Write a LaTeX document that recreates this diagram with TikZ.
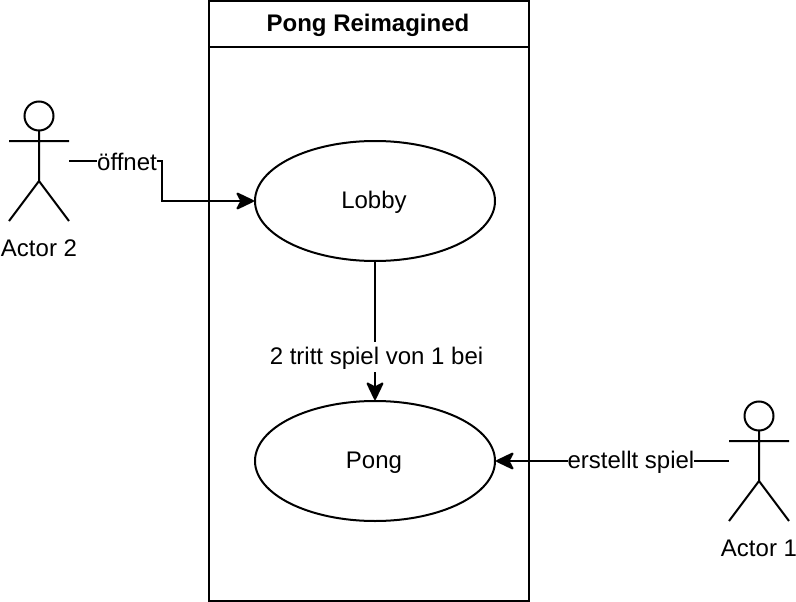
\documentclass[tikz,border=0pt]{standalone}
\usepackage{fontspec}
\setmainfont{Liberation Sans}
\usetikzlibrary{arrows.meta,shapes.geometric}
\tikzset{
  ln/.style={line width=2pt,black},
  uc/.style={draw,ln,ellipse,minimum width=240pt,minimum height=120pt,inner sep=0pt},
  lab/.style={fill=white,inner xsep=0pt,inner ysep=0pt,text height=22pt,text depth=8pt,anchor=base,font=\fontsize{24pt}{28pt}\selectfont},
  txt/.style={inner sep=0pt,anchor=base,font=\fontsize{24pt}{28pt}\selectfont},
  arr/.style={ln,-{Stealth[length=20pt,width=19pt,inset=5pt,round=false]}}
}
\begin{document}
\begin{tikzpicture}[x=1pt,y=-1pt]
\useasboundingbox (0,0) rectangle (796,602);
\node[draw,ln,minimum width=320pt,minimum height=600pt,inner sep=0pt] (sys) at (369,301) {};
\coordinate (hl) at (209,47);
\coordinate (hr) at (529,47);
\draw[ln] (hl) -- (hr);
\node[txt,font=\fontsize{24pt}{28pt}\selectfont\bfseries] (title) at (368,32) {Pong Reimagined};
\node[uc] (lobby) at (375,201) {};
\node[txt] (lobbyt) at (374,208) {Lobby};
\node[uc] (pong) at (375,461) {};
\node[txt] (pongt) at (374,468) {Pong};
% Actor 2
\node[draw,ln,circle,minimum size=29pt,inner sep=0pt] (h2) at (39,116) {};
\coordinate (n2) at (39,131);
\coordinate (hip2) at (39,181);
\coordinate (al2) at (9,141);
\coordinate (ar2) at (69,141);
\coordinate (fl2) at (9,221);
\coordinate (fr2) at (69,221);
\coordinate (mid2) at (69,161);
\draw[ln] (n2) -- (hip2) (al2) -- (ar2) (fl2) -- (hip2) -- (fr2);
\node[txt] (a2) at (39,256) {Actor 2};
% Actor 1
\node[draw,ln,circle,minimum size=29pt,inner sep=0pt] (h1) at (759,416) {};
\coordinate (n1) at (759,431);
\coordinate (hip1) at (759,481);
\coordinate (al1) at (729,441);
\coordinate (ar1) at (789,441);
\coordinate (fl1) at (729,521);
\coordinate (fr1) at (789,521);
\coordinate (mid1) at (729,461);
\draw[ln] (n1) -- (hip1) (al1) -- (ar1) (fl1) -- (hip1) -- (fr1);
\node[txt] (a1) at (759,556) {Actor 1};
% connectors
\draw[arr] (mid2) -| (162,201) -- (lobby.west);
\node[lab] (l1) at (127,170) {öffnet};
\draw[arr] (lobby.south) -- (pong.north);
\node[lab] (l2) at (376.5,364) {2 tritt spiel von 1 bei};
\draw[arr] (mid1) -- (pong.east);
\node[lab] (l3) at (631,468) {erstellt spiel};
\end{tikzpicture}
\end{document}
